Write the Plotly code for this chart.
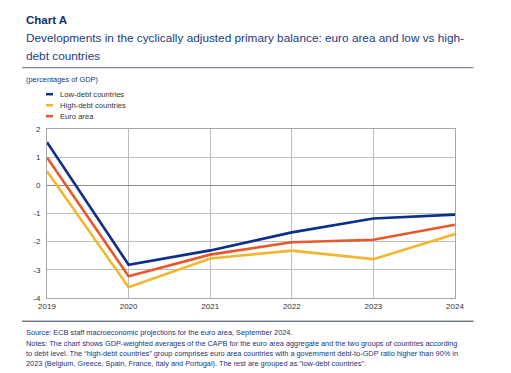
import plotly.graph_objects as go

years = [2019, 2020, 2021, 2022, 2023, 2024]
low_debt = [1.53, -2.82, -2.31, -1.67, -1.18, -1.04]
high_debt = [0.50, -3.62, -2.60, -2.32, -2.62, -1.73]
euro_area = [0.99, -3.23, -2.46, -2.02, -1.93, -1.40]
series_names = ["Low-debt countries", "High-debt countries", "Euro area"]
series_colors = ["#0B2F8A", "#F2B631", "#E8582C"]
y_ticks = [2, 1, 0, -1, -2, -3, -4]

# page body has an 8px default margin: work in reference pixels, shift by 8
OFF = 8
W, H = 511 - OFF, 373 - OFF
L, R, T, B = 47 - OFF, 455.5 - OFF, 129.3 - OFF, 298.3 - OFF

def px(x):
    return (x - OFF - L) / (R - L)

def py(y):
    return (B - (y - OFF)) / (B - T)

fig = go.Figure()
for vals, name, col in [(high_debt, series_names[1], series_colors[1]),
                        (euro_area, series_names[2], series_colors[2]),
                        (low_debt, series_names[0], series_colors[0])]:
    fig.add_trace(go.Scatter(x=years, y=vals, mode="lines", name=name,
                             line=dict(color=col, width=2.6), showlegend=False))

navy = "#1B3473"
ann = []
shapes = []

def text(x, y, s, size, color=navy, bold=False):
    ann.append(dict(x=px(x), y=py(y), xref="paper", yref="paper", text=("<b>%s</b>" % s) if bold else s,
                    showarrow=False, xanchor="left", yanchor="middle",
                    font=dict(size=size, color=color, family="Liberation Sans, Arial")))

text(24, 20, "Chart A", 11.5, color="#123070", bold=True)
text(24, 38.5, "Developments in the cyclically adjusted primary balance: euro area and low vs high-", 11.8, color="#1B3A80")
text(24, 56, "debt countries", 11.8, color="#1B3A80")
text(24, 80, "(percentages of GDP)", 7.4)

leg_y = [94.5, 105.5, 116.5]
for name, col, yy in zip(series_names, series_colors, leg_y):
    shapes.append(dict(type="line", xref="paper", yref="paper", x0=px(46), x1=px(53), y0=py(yy), y1=py(yy),
                       line=dict(color=col, width=2.5)))
    text(58, yy, name, 7.6, color="#333333")

src = ["Source: ECB staff macroeconomic projections for the euro area, September 2024.",
       "Notes: The chart shows GDP-weighted averages of the CAPB for the euro area aggregate and the two groups of countries according",
       "to debt level. The \u201chigh-debt countries\u201d group comprises euro area countries with a government debt-to-GDP ratio higher than 90% in",
       "2023 (Belgium, Greece, Spain, France, Italy and Portugal). The rest are grouped as \u201clow-debt countries\u201d."]
for i, s in enumerate(src):
    text(24, 333 + i * 10.4, s, 7.35)

shapes.append(dict(type="line", xref="paper", yref="paper", x0=px(22), x1=px(474), y0=py(68), y1=py(68),
                   line=dict(color="#7D8794", width=1.3)))
shapes.append(dict(type="line", xref="paper", yref="paper", x0=px(22), x1=px(474), y0=py(321.5), y1=py(321.5),
                   line=dict(color="#2E3B4E", width=1.0)))

fig.update_layout(
    width=W, height=H,
    margin=dict(l=L, r=W - R, t=T, b=H - B, pad=0),
    paper_bgcolor="white", plot_bgcolor="white",
    annotations=ann, shapes=shapes,
    font=dict(family="Liberation Sans, Arial", size=8, color="#333333"),
    xaxis=dict(range=[2019, 2024], tickvals=years, ticktext=[str(y) for y in years],
               showgrid=True, gridcolor="#BDBDBD", gridwidth=1, zeroline=False,
               showline=True, linecolor="#A6A6A6", linewidth=1, mirror=True,
               ticks="", ticklen=0, tickfont=dict(size=8, color="#333333")),
    yaxis=dict(range=[-4, 2], tickvals=y_ticks, ticktext=[str(v) for v in y_ticks],
               showgrid=True, gridcolor="#BDBDBD", gridwidth=1,
               zeroline=True, zerolinecolor="#8C8C8C", zerolinewidth=1,
               showline=True, linecolor="#A6A6A6", linewidth=1, mirror=True,
               ticks="outside", ticklen=4, tickcolor="white", tickfont=dict(size=8, color="#333333")),
)

fig.write_html("out.html")
